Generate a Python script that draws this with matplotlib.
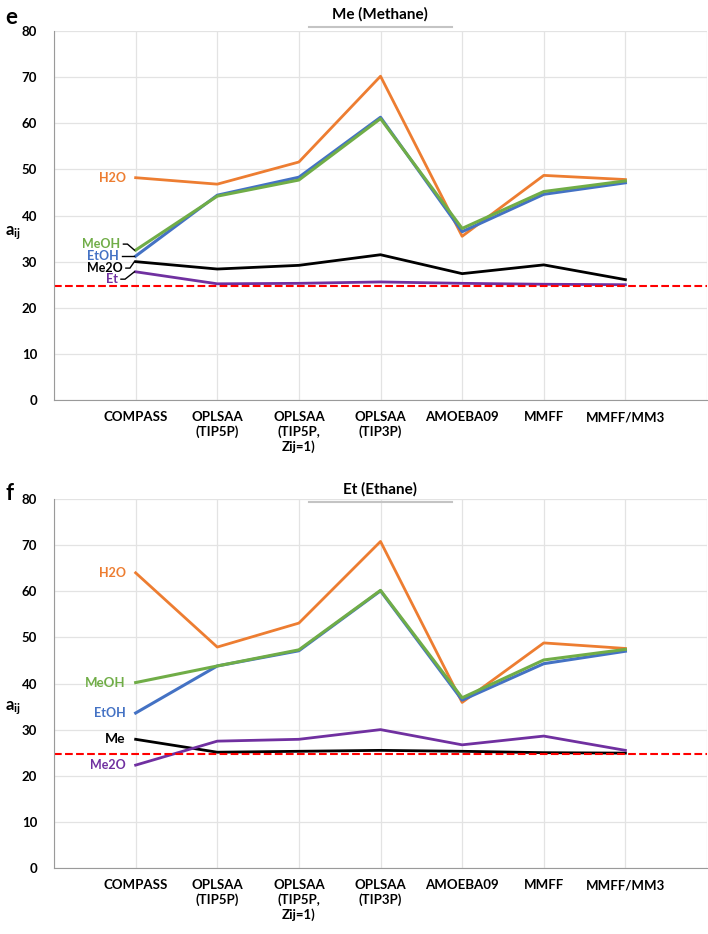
import numpy as np
import matplotlib
matplotlib.use('Agg')
import matplotlib.pyplot as plt

plt.rcParams['font.family'] = ['Lato', 'DejaVu Sans']
plt.rcParams['font.weight'] = 'bold'
plt.rcParams['mathtext.fontset'] = 'custom'
plt.rcParams['mathtext.bf'] = 'Lato:bold'
plt.rcParams['mathtext.rm'] = 'Lato:bold'

categories = ['COMPASS', 'OPLSAA\n(TIP5P)', 'OPLSAA\n(TIP5P,\nZij=1)', 'OPLSAA\n(TIP3P)',
              'AMOEBA09', 'MMFF', 'MMFF/MM3']

# panel e : Me (Methane)
me_h2o = [48.2, 46.8, 51.6, 70.2, 35.5, 48.7, 47.8]
me_meoh = [32.5, 44.2, 47.7, 61.0, 37.2, 45.2, 47.5]
me_etoh = [31.2, 44.4, 48.3, 61.3, 36.5, 44.6, 47.1]
me_me2o = [30.0, 28.4, 29.2, 31.5, 27.4, 29.3, 26.1]
me_et = [27.8, 25.2, 25.3, 25.6, 25.3, 25.1, 25.0]

# panel f : Et (Ethane)
et_h2o = [64.0, 47.9, 53.1, 70.8, 35.9, 48.8, 47.6]
et_meoh = [40.2, 43.8, 47.3, 60.2, 36.9, 45.1, 47.4]
et_etoh = [33.6, 43.8, 47.1, 60.1, 36.4, 44.3, 47.0]
et_me = [27.9, 25.1, 25.3, 25.5, 25.3, 25.0, 24.9]
et_me2o = [22.3, 27.5, 27.9, 30.0, 26.7, 28.6, 25.5]

ref_line = 24.8

orange = '#ED7D31'
green = '#70AD47'
blue = '#4472C4'
purple = '#7030A0'

fig = plt.figure(figsize=(7.08, 9.34), dpi=100)
ax1 = fig.add_axes([0.0763, 0.5717, 0.9223, 0.3951])
ax2 = fig.add_axes([0.0763, 0.0707, 0.9223, 0.3950])

x = np.arange(1, len(categories) + 1)


def style_axes(ax, title, letter, title_y, ylab_y):
    ax.set_xlim(0, 8)
    ax.set_ylim(0, 80)
    ax.set_yticks(range(0, 81, 10))
    ax.set_xticks(range(0, 9))
    ax.set_xticklabels([''] + categories + [''])
    ax.grid(True, color='#e3e3e3', linewidth=0.9)
    ax.set_axisbelow(True)
    for s in ['top', 'right']:
        ax.spines[s].set_visible(False)
    ax.spines['left'].set_color('#9a9a9a')
    ax.spines['bottom'].set_color('#9a9a9a')
    ax.tick_params(length=0, labelsize=9.5, pad=8)
    ax.tick_params(axis='y', pad=12)
    for lab in ax.get_xticklabels():
        lab.set_verticalalignment('top')
    ax.text(-0.063, ylab_y, r'$\mathbf{a_{ij}}$', transform=ax.transAxes, fontsize=12,
            ha='center', va='center')
    fig.text(0.537, title_y, title, ha='center', va='center', fontsize=11,
             fontweight='bold')
    fig.text(0.008, title_y - 0.004, letter, ha='left', va='center', fontsize=16,
             fontweight='bold')
    fig.add_artist(plt.Line2D([0.436, 0.638], [title_y - 0.014, title_y - 0.014],
                              color='#c4c4c4', linewidth=1.5, transform=fig.transFigure))


# top panel
ax1.plot(x, me_h2o, color=orange, lw=2)
ax1.plot(x, me_etoh, color=blue, lw=2.2)
ax1.plot(x, me_meoh, color=green, lw=2.2)
ax1.plot(x, me_me2o, color='black', lw=2)
ax1.plot(x, me_et, color=purple, lw=2)
ax1.axhline(ref_line, color='red', ls='--', lw=1.5)
style_axes(ax1, 'Me (Methane)', 'e', 0.985, 0.453)

ax1.text(0.88, me_h2o[0], 'H2O', color=orange, fontsize=9, ha='right', va='center')
lbl = [('MeOH', green, me_meoh[0], 33.8, 0.81),
       ('EtOH', blue, me_etoh[0], 31.2, 0.79),
       ('Me2O', 'black', me_me2o[0], 28.6, 0.84),
       ('Et', purple, me_et[0], 26.2, 0.78)]
for name, col, yv, ty, tx in lbl:
    ax1.text(tx, ty, name, color=col, fontsize=9, ha='right', va='center')
    ax1.plot([tx + 0.04, tx + 0.09, 0.985], [ty, ty, yv], color='black', lw=1,
             solid_joinstyle='miter')

# bottom panel
ax2.plot(x, et_h2o, color=orange, lw=2)
ax2.plot(x, et_etoh, color=blue, lw=2.2)
ax2.plot(x, et_meoh, color=green, lw=2.2)
ax2.plot(x, et_me, color='black', lw=2)
ax2.plot(x, et_me2o, color=purple, lw=2)
ax2.axhline(ref_line, color='red', ls='--', lw=1.5)
style_axes(ax2, 'Et (Ethane)', 'f', 0.476, 0.434)

ax2.text(0.88, et_h2o[0], 'H2O', color=orange, fontsize=9, ha='right', va='center')
ax2.text(0.88, et_meoh[0], 'MeOH', color=green, fontsize=9.5, ha='right', va='center')
ax2.text(0.88, et_etoh[0], 'EtOH', color=blue, fontsize=9, ha='right', va='center')
ax2.text(0.88, et_me[0], 'Me', color='black', fontsize=10, ha='right', va='center')
ax2.text(0.88, et_me2o[0], 'Me2O', color=purple, fontsize=9, ha='right', va='center')

plt.savefig('out.png', dpi=100)
